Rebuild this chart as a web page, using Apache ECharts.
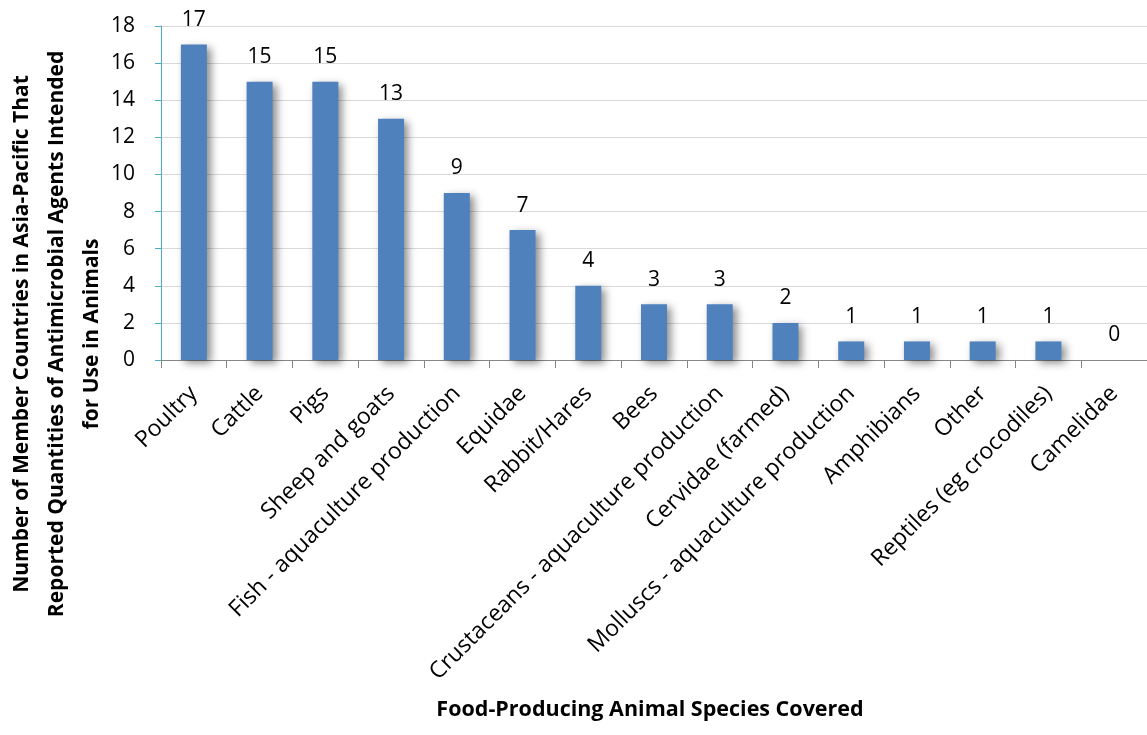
<!DOCTYPE html>
<html>
<head>
<meta charset="utf-8">
<script src="https://cdn.jsdelivr.net/npm/echarts@6/dist/echarts.min.js"></script>
<style>
  html, body { margin: 0; padding: 0; background: #ffffff; }
  #chart { width: 1147px; height: 735px; }
</style>
</head>
<body>
<div id="chart"></div>
<script>
// Animal species covered by reporting countries, with the number of countries for each
const categories = [
  'Poultry', 'Cattle', 'Pigs', 'Sheep and goats', 'Fish - aquaculture production',
  'Equidae', 'Rabbit/Hares', 'Bees', 'Crustaceans - aquaculture production',
  'Cervidae (farmed)', 'Molluscs - aquaculture production', 'Amphibians',
  'Other', 'Reptiles (eg crocodiles)', 'Camelidae'
];
const countries = [17, 15, 15, 13, 9, 7, 4, 3, 3, 2, 1, 1, 1, 1, 0];

const yTitle = 'Number of Member Countries in Asia-Pacific That\nReported Quantities of Antimicrobial Agents Intended\nfor Use in Animals';
const xTitle = 'Food-Producing Animal Species Covered';

const FONT = 'Open Sans';
const chart = echarts.init(document.getElementById('chart'), null, { renderer: 'canvas' });

chart.setOption({
  animation: false,
  backgroundColor: '#ffffff',
  textStyle: { fontFamily: FONT },
  grid: { left: 161, right: -3, top: 26, bottom: 375, containLabel: false },
  xAxis: {
    type: 'category',
    data: categories,
    boundaryGap: true,
    axisLine: { show: true, lineStyle: { color: '#868686', width: 1 } },
    axisTick: { show: true, alignWithLabel: false, length: 8, lineStyle: { color: '#868686' } },
    axisLabel: {
      interval: 0,
      rotate: 45,
      margin: 30,
      color: '#000000',
      fontFamily: FONT,
      fontSize: 23
    },
    splitLine: { show: false }
  },
  yAxis: {
    type: 'value',
    min: 0,
    max: 18,
    interval: 2,
    axisLine: { show: true, lineStyle: { color: '#4BACC6', width: 1 } },
    axisTick: { show: true, length: 6, lineStyle: { color: '#4BACC6' } },
    axisLabel: { margin: 26, color: '#000000', fontFamily: FONT, fontSize: 21 },
    splitLine: { show: true, lineStyle: { color: '#D9D9D9', width: 1 } }
  },
  series: [{
    type: 'bar',
    data: countries,
    barWidth: 26,
    itemStyle: {
      color: '#4F81BD',
      shadowColor: 'rgba(0,0,0,0.45)',
      shadowBlur: 8,
      shadowOffsetX: 4,
      shadowOffsetY: 3
    },
    label: {
      show: true,
      position: 'top',
      distance: 14,
      color: '#000000',
      fontFamily: FONT,
      fontSize: 21
    }
  }],
  graphic: [
    {
      type: 'text',
      x: 57,
      y: 334,
      rotation: Math.PI / 2,
      style: {
        text: yTitle,
        fill: '#000000',
        font: 'bold 21px ' + FONT,
        align: 'center',
        verticalAlign: 'middle',
        lineHeight: 35
      }
    },
    {
      type: 'text',
      x: 650,
      y: 710,
      style: {
        text: xTitle,
        fill: '#000000',
        font: 'bold 21.5px ' + FONT,
        align: 'center',
        verticalAlign: 'middle'
      }
    }
  ]
});
</script>
</body>
</html>
